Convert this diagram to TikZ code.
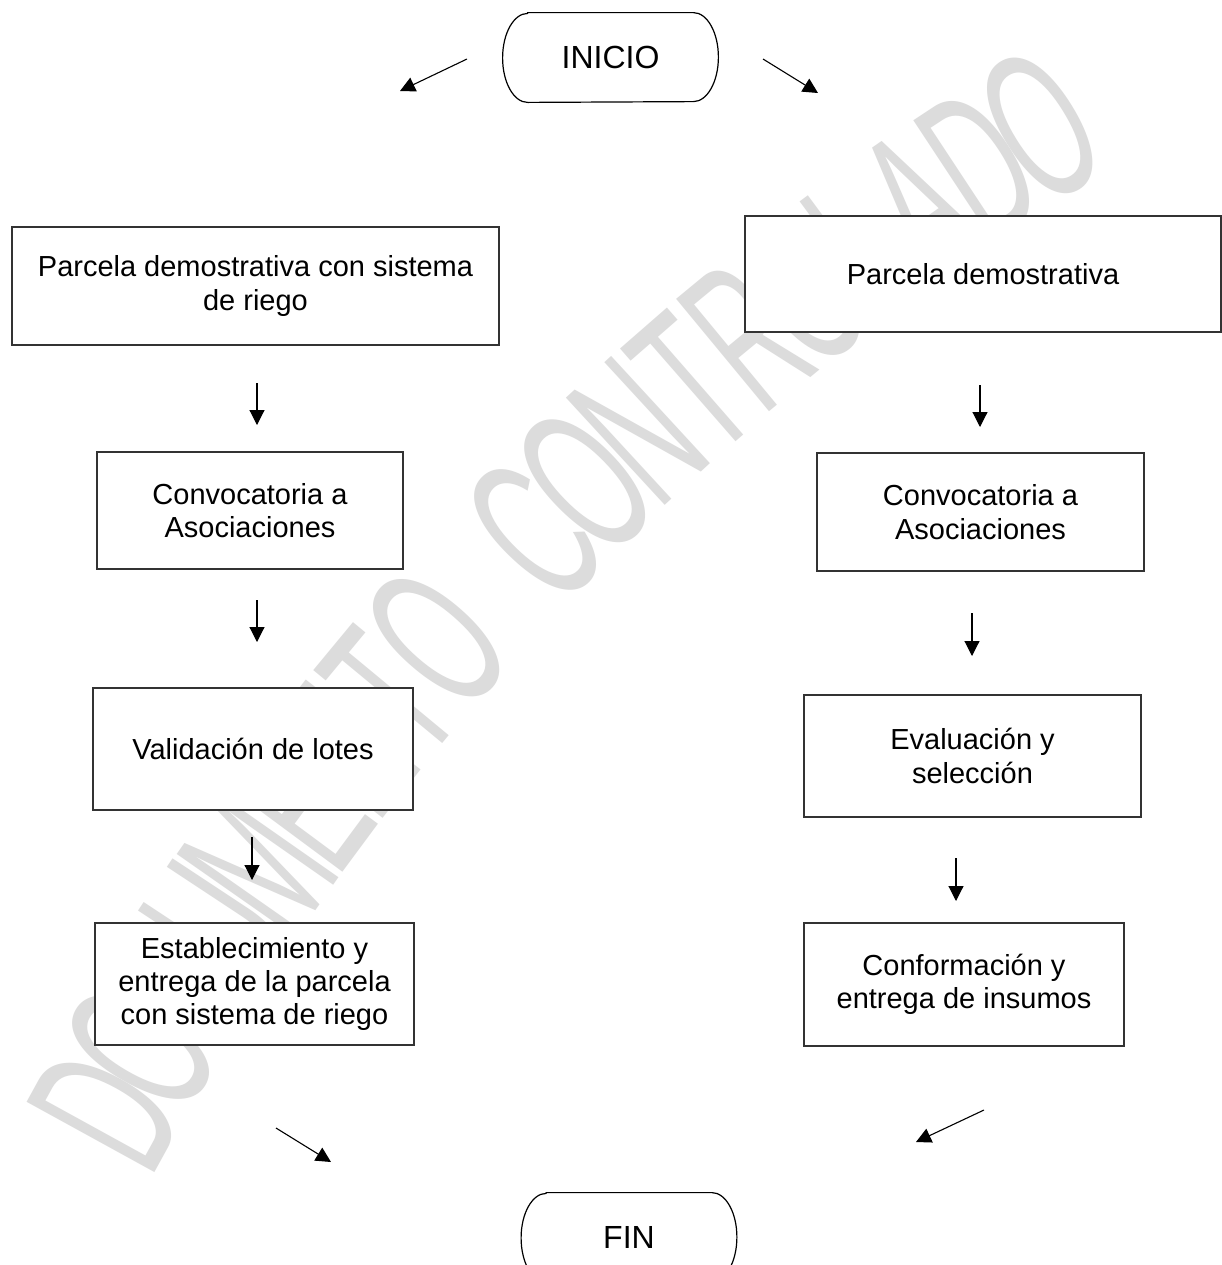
\documentclass[tikz,border=0pt]{standalone}
\usepackage{fontspec}
\setmainfont{Liberation Sans}
\newfontfamily\wmfont{Liberation Sans}
\usetikzlibrary{arrows.meta}
\definecolor{wm}{RGB}{220,220,220}
\begin{document}
\begin{tikzpicture}[x=0.5pt,y=-0.5pt,
  box/.style={draw=black!80, line width=0.75pt, fill=white, align=center, inner sep=0pt,
    font=\fontsize{14.5pt}{16.7pt}\selectfont},
  term/.style={inner sep=0pt, minimum width=107.5pt, minimum height=44.5pt,
    font=\fontsize{16pt}{19pt}\selectfont},
  termline/.style={draw=black, line width=0.6pt, fill=white},
  arr/.style={line width=0.55pt, -{Triangle[length=7.5pt,width=7.5pt]}},
  wmletter/.style={text=wm, inner sep=0pt, font=\wmfont\fontsize{106pt}{106pt}\selectfont, xscale=0.52}]
\useasboundingbox (0,0) rectangle (1222,1265);
\fill[white] (0,0) rectangle (1222,1265);

% watermark
\foreach \ch [count=\i from 0] in {D,O,C,U,M,E,N,T,O,{ },C,O,N,T,R,O,L,A,D,O} {
  \pgfmathsetmacro\t{151.2-\i*1.545}
  \pgfmathsetmacro\r{\t-90}
  \pgfmathsetmacro\px{2454+2680*cos(\t)}
  \pgfmathsetmacro\py{2402-2680*sin(\t)}
  \node[rotate=\r, wmletter] (wm\i) at (\px,\py) {\ch};
}

% terminals
\node[term] (inicio) at (610.5,57.5) {};
\draw[termline] ([xshift=12.5pt]inicio.north west) -- ([xshift=-12.5pt]inicio.north east)
  arc[start angle=90,end angle=-90,x radius=12.5pt,y radius=22.25pt]
  -- ([xshift=12.5pt]inicio.south west)
  arc[start angle=270,end angle=90,x radius=12.5pt,y radius=22.25pt] -- cycle;
\node[term] at (inicio.center) {INICIO};

\node[term] (fin) at (629,1237.5) {};
\draw[termline] ([xshift=12.5pt]fin.north west) -- ([xshift=-12.5pt]fin.north east)
  arc[start angle=90,end angle=-90,x radius=12.5pt,y radius=22.25pt]
  -- ([xshift=12.5pt]fin.south west)
  arc[start angle=270,end angle=90,x radius=12.5pt,y radius=22.25pt] -- cycle;
\node[term] at (fin.center) {FIN};

% left column
\node[box, minimum width=243.5pt, minimum height=59pt] (l1) at (255.5,286) {Parcela demostrativa con sistema\\de riego};
\node[box, minimum width=153pt, minimum height=58.5pt] (l2) at (250,510.5) {Convocatoria a\\Asociaciones};
\node[box, minimum width=160pt, minimum height=61pt] (l3) at (253,749) {Validación de lotes};
\node[box, minimum width=159.5pt, minimum height=61pt] (l4) at (254.5,984) {Establecimiento y\\entrega de la parcela\\con sistema de riego};

% right column
\node[box, minimum width=238pt, minimum height=58pt] (r1) at (983,274) {Parcela demostrativa};
\node[box, minimum width=163.5pt, minimum height=59pt] (r2) at (980.5,512) {Convocatoria a\\Asociaciones};
\node[box, minimum width=168.5pt, minimum height=61pt] (r3) at (972.5,756) {Evaluación y\\selección};
\node[box, minimum width=160pt, minimum height=61.5pt] (r4) at (964,984.5) {Conformación y\\entrega de insumos};

% arrow end points
\coordinate (tla) at (467,59);   \coordinate (tlb) at (400,91);
\coordinate (tra) at (763,59);   \coordinate (trb) at (818,93);
\coordinate (la1) at (257,383);  \coordinate (lb1) at (257,425);
\coordinate (la2) at (257,600);  \coordinate (lb2) at (257,642);
\coordinate (la3) at (252,837);  \coordinate (lb3) at (252,880);
\coordinate (ra1) at (980,385);  \coordinate (rb1) at (980,427);
\coordinate (ra2) at (972,613);  \coordinate (rb2) at (972,656);
\coordinate (ra3) at (956,858);  \coordinate (rb3) at (956,901);
\coordinate (bla) at (276,1128); \coordinate (blb) at (331,1162);
\coordinate (bra) at (984,1110); \coordinate (brb) at (916,1142);

\foreach \a/\b in {tla/tlb,tra/trb,la1/lb1,la2/lb2,la3/lb3,ra1/rb1,ra2/rb2,ra3/rb3,bla/blb,bra/brb}
  \draw[arr] (\a) -- (\b);
\end{tikzpicture}
\end{document}
